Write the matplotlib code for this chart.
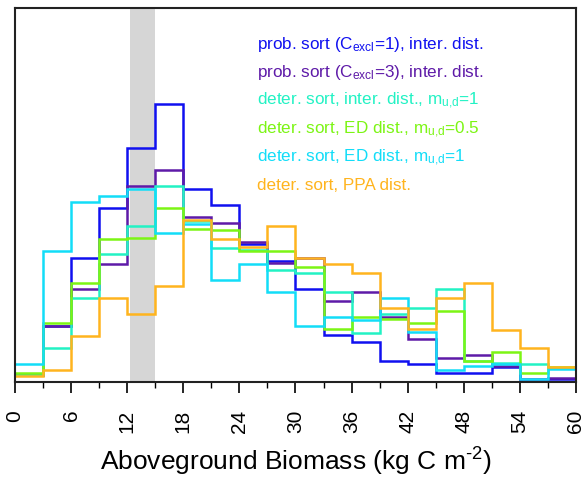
import matplotlib
matplotlib.use('Agg')
import matplotlib.pyplot as plt
import numpy as np

plt.rcParams['font.family'] = ['Liberation Sans', 'DejaVu Sans']
plt.rcParams['mathtext.fontset'] = 'custom'
plt.rcParams['mathtext.rm'] = 'Liberation Sans'
plt.rcParams['mathtext.it'] = 'Liberation Sans:italic'

# bin edges (kg C m-2), 3 kg bins from 0 to 60
edges = np.arange(0, 61, 3)

# fraction of plots (%) per bin
prob_c1 = [0.40, 3.17, 7.07, 9.91, 13.29, 15.79, 10.97, 10.08, 7.83, 6.90,
           5.30, 2.65, 2.27, 1.21, 1.04, 0.53, 0.53, 0.87, 0.07, 0.15]
prob_c3 = [0.40, 3.18, 5.29, 6.73, 11.14, 12.04, 9.38, 9.02, 7.96, 6.74,
           7.05, 4.59, 5.12, 3.71, 2.46, 1.39, 1.55, 0.91, 0.17, 0.23]
deter_inter = [0.40, 1.95, 4.76, 7.26, 8.85, 11.14, 9.15, 7.60, 7.50, 6.37,
               6.18, 5.12, 2.80, 3.88, 4.22, 5.29, 1.21, 1.06, 1.02, 0.80]
deter_ed05 = [0.54, 3.37, 5.65, 8.15, 8.17, 9.91, 8.67, 8.66, 7.45, 7.43,
              6.55, 3.00, 3.71, 3.56, 3.37, 4.05, 1.19, 1.72, 0.49, 0.88]
deter_ed1 = [1.04, 7.43, 10.25, 10.59, 10.97, 8.49, 9.01, 5.82, 6.71, 5.13,
             3.18, 3.71, 3.52, 4.78, 2.83, 0.71, 0.91, 1.02, 0.15, 0.72]
deter_ppa = [0.34, 0.70, 2.62, 4.76, 3.88, 5.46, 9.21, 8.15, 7.67, 8.85,
             7.07, 6.73, 6.18, 4.22, 3.03, 4.76, 5.65, 2.97, 1.93, 0.87]

labels = [r'prob. sort (C$_{\text{excl}}$=1), inter. dist.',
          r'prob. sort (C$_{\text{excl}}$=3), inter. dist.',
          r'deter. sort, inter. dist., m$_{\text{u,d}}$=1',
          r'deter. sort, ED dist., m$_{\text{u,d}}$=0.5',
          r'deter. sort, ED dist., m$_{\text{u,d}}$=1',
          'deter. sort, PPA dist.']
colors = ['#1010f0', '#5e1aa8', '#22f2c4', '#7cf514', '#12ddf8', '#ffb41e']
series = [prob_c1, prob_c3, deter_inter, deter_ed05, deter_ed1, deter_ppa]

fig = plt.figure(figsize=(5.85, 4.78), dpi=100)
ax = fig.add_axes([0.0256, 0.2008, 0.959, 0.7825])

ax.axvspan(12.3, 15, color='#d6d6d6', lw=0, zorder=0)

for vals, c in zip(series, colors):
    ax.stairs(vals, edges, color=c, lw=1.8, baseline=None)

for i, (lab, c) in enumerate(zip(labels, colors)):
    ax.text(0.431, 0.902 - i * 0.0755, lab, color=c, fontsize=12.3,
            transform=ax.transAxes, va='center', ha='left')

ax.set_xlim(0, 60)
ax.set_ylim(0, 21.26)
ax.set_xticks(np.arange(0, 61, 6))
ax.set_xticks(np.arange(0, 61, 3), minor=True)
ax.set_xticklabels([str(v) for v in range(0, 61, 6)], rotation=90,
                   fontsize=15)
ax.set_yticks([])
ax.tick_params(axis='x', which='major', direction='out', length=8, width=1.2, pad=12)
ax.tick_params(axis='x', which='minor', direction='out', length=4, width=1.0)
for s in ax.spines.values():
    s.set_linewidth(1.5)
    s.set_color('#222222')

ax.set_xlabel(r'Aboveground Biomass (kg C m$^{\text{-2}}$)', fontsize=19, labelpad=9)

fig.savefig('out.png', dpi=100)
